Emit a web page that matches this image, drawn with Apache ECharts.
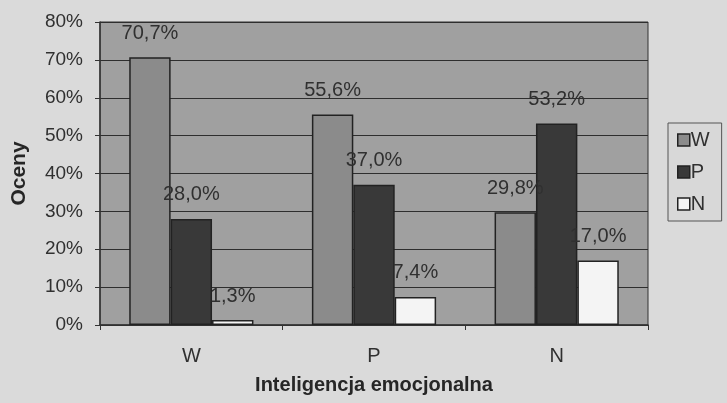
<!DOCTYPE html>
<html>
<head>
<meta charset="utf-8">
<script src="https://cdn.jsdelivr.net/npm/echarts@6/dist/echarts.min.js"></script>
<style>
  html, body { margin: 0; padding: 0; background: #dadada; }
  #chart { width: 727px; height: 403px; }
</style>
</head>
<body>
<div id="chart"></div>
<script>
// categories on the x axis
var categories = ['W', 'P', 'N'];
// series values in percent
var seriesNames = ['W', 'P', 'N'];
var valuesW = [70.7, 55.6, 29.8];
var valuesP = [28.0, 37.0, 53.2];
var valuesN = [1.3, 7.4, 17.0];
var yTicks = [0, 10, 20, 30, 40, 50, 60, 70, 80];

var fillColors = ['#8b8b8b', '#393939', '#f4f4f4'];

var chart = echarts.init(document.getElementById('chart'));

function fmt(v) {
    // polish decimal comma
    return v.toFixed(1).replace('.', ',') + '%';
}

function makeSeries(name, data, color) {
    return {
        name: name,
        type: 'bar',
        data: data,
        barGap: '0%',
        barCategoryGap: '32%',
        itemStyle: {
            color: color,
            borderColor: '#222',
            borderWidth: 1.5
        },
        label: {
            show: true,
            position: 'top',
            distance: 14,
            color: '#303030',
            fontFamily: 'Liberation Sans',
            fontSize: 20,
            formatter: function (p) { return fmt(p.value); }
        }
    };
}

var option = {
    backgroundColor: '#dadada',
    animation: false,
    grid: {
        left: 100,
        right: 79,
        top: 22,
        bottom: 78,
        show: true,
        backgroundColor: '#a0a0a0',
        borderColor: '#333',
        borderWidth: 1
    },
    legend: {
        orient: 'vertical',
        left: 668,
        top: 123,
        data: seriesNames,
        icon: 'rect',
        itemWidth: 12,
        itemHeight: 12,
        itemGap: 12,
        padding: [7, 12, 7, 9],
        borderColor: '#555',
        borderWidth: 1,
        backgroundColor: '#d8d8d8',
        textStyle: {
            color: '#303030',
            fontFamily: 'Liberation Sans',
            fontSize: 20,
            padding: [0, 0, 0, -4]
        },
        itemStyle: {
            borderColor: '#222',
            borderWidth: 1.5
        }
    },
    xAxis: {
        type: 'category',
        data: categories,
        name: 'Inteligencja emocjonalna',
        nameLocation: 'middle',
        nameGap: 50,
        nameTextStyle: {
            color: '#262626',
            fontFamily: 'Liberation Sans',
            fontSize: 20,
            fontWeight: 'bold'
        },
        axisLine: { show: true, lineStyle: { color: '#333', width: 1.5 } },
        axisTick: { show: true, length: 5, lineStyle: { color: '#333' } },
        axisLabel: {
            color: '#303030',
            fontFamily: 'Liberation Sans',
            fontSize: 20,
            margin: 21
        }
    },
    yAxis: {
        type: 'value',
        min: yTicks[0],
        max: yTicks[yTicks.length - 1],
        interval: 10,
        name: 'Oceny',
        nameLocation: 'middle',
        nameGap: 70,
        nameTextStyle: {
            color: '#262626',
            fontFamily: 'Liberation Sans',
            fontSize: 21,
            fontWeight: 'bold'
        },
        axisLine: { show: true, lineStyle: { color: '#333', width: 1.5 } },
        axisTick: { show: true, length: 5, lineStyle: { color: '#333' } },
        axisLabel: {
            color: '#303030',
            fontFamily: 'Liberation Sans',
            fontSize: 19,
            margin: 17,
            formatter: '{value}%'
        },
        splitLine: { show: true, lineStyle: { color: '#2e2e2e', width: 1 } }
    },
    series: [
        makeSeries(seriesNames[0], valuesW, fillColors[0]),
        makeSeries(seriesNames[1], valuesP, fillColors[1]),
        makeSeries(seriesNames[2], valuesN, fillColors[2])
    ]
};

chart.setOption(option);
</script>
</body>
</html>
